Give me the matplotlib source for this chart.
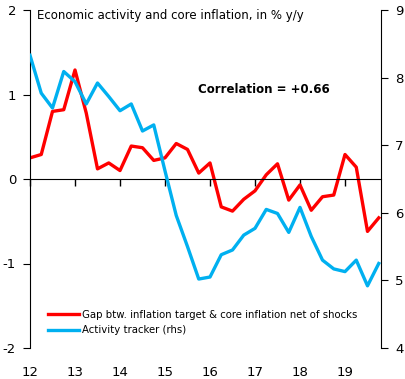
import matplotlib
matplotlib.use('Agg')
import matplotlib.pyplot as plt
import numpy as np

plt.rcParams['font.family'] = ['DejaVu Sans']
plt.rcParams['axes.unicode_minus'] = False

# quarterly data, 2012Q1 .. 2019Q4
quarters = np.arange(32) / 4 + 12
gap = [0.25, 0.29, 0.80, 0.82, 1.29, 0.78, 0.12, 0.19, 0.10, 0.39,
       0.37, 0.22, 0.25, 0.42, 0.35, 0.07, 0.19, -0.33, -0.38, -0.24,
       -0.14, 0.05, 0.18, -0.25, -0.07, -0.37, -0.21, -0.19, 0.29, 0.14,
       -0.62, -0.46]
activity = [8.33, 7.77, 7.55, 8.09, 7.94, 7.61, 7.92, 7.72, 7.51, 7.61,
            7.21, 7.30, 6.62, 5.96, 5.50, 5.02, 5.05, 5.38, 5.45, 5.67,
            5.77, 6.05, 5.99, 5.71, 6.08, 5.65, 5.30, 5.17, 5.13, 5.30,
            4.92, 5.25]
years = list(range(12, 20))
red = '#FF0000'
blue = '#00B0F0'

fig = plt.figure(figsize=(4.05, 3.79), dpi=100)
ax = fig.add_axes([30 / 405, 31 / 379, 351 / 405, 338 / 379])
ax2 = ax.twinx()

l1, = ax.plot(quarters, gap, color=red, lw=2.4,
              label='Gap btw. inflation target & core inflation net of shocks')
l2, = ax2.plot(quarters, activity, color=blue, lw=2.4,
               label='Activity tracker (rhs)')

ax.set_xlim(12, 19.8)
ax.set_ylim(-2, 2)
ax.set_yticks([-2, -1, 0, 1, 2])
ax2.set_ylim(4, 9)
ax2.set_yticks([4, 5, 6, 7, 8, 9])

for a in (ax, ax2):
    a.spines['top'].set_visible(False)
    a.spines['bottom'].set_visible(False)
ax2.spines['left'].set_visible(False)
ax.spines['right'].set_visible(False)
ax.spines['bottom'].set_visible(True)
ax.spines['bottom'].set_position(('data', 0))

ax.set_xticks(years)
ax.tick_params(axis='x', labelbottom=False, direction='out', length=5, width=1)
ax.tick_params(axis='y', direction='out', length=5, labelsize=9.5, pad=5)
ax2.tick_params(axis='y', direction='out', length=5, labelsize=9.5, pad=5)

sec = ax.secondary_xaxis('bottom')
sec.set_xticks(years)
sec.tick_params(length=0, pad=13, labelsize=9.5)
sec.spines['bottom'].set_visible(False)

ax.text(0.02, 0.985, 'Economic activity and core inflation, in % y/y',
        transform=ax.transAxes, fontsize=8.5, va='center', ha='left')
ax.text(0.667, 0.766, 'Correlation = +0.66', transform=ax.transAxes,
        fontsize=8.5, fontweight='bold', va='center', ha='center')

ax2.legend(handles=[l1, l2], loc='lower left', bbox_to_anchor=(0.04, 0.025),
           frameon=False, fontsize=7.3, handlelength=3.0, handletextpad=0.3,
           labelspacing=0.55, borderaxespad=0)

fig.savefig('out.png', dpi=100)
